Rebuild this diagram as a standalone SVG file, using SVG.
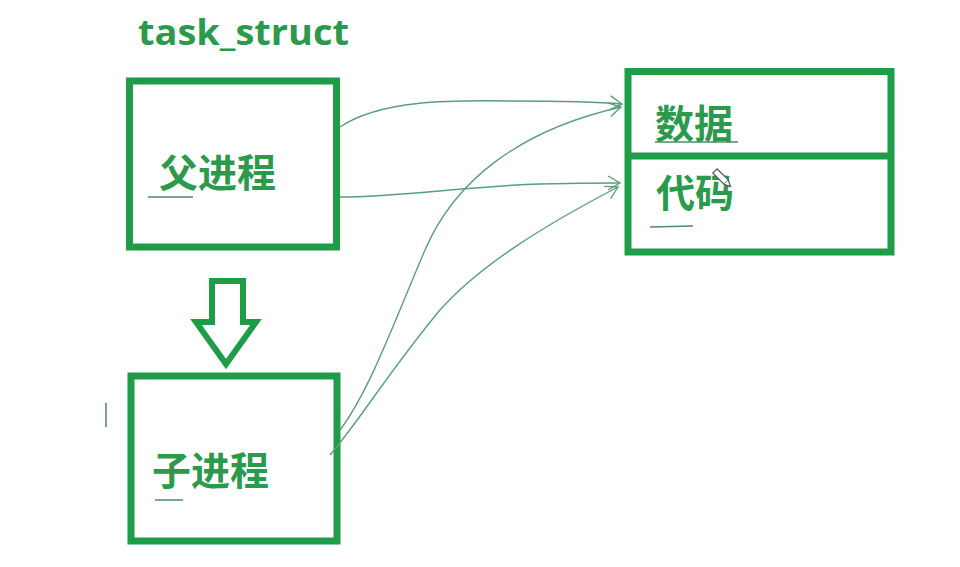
<svg xmlns="http://www.w3.org/2000/svg" width="960" height="567" viewBox="0 0 960 567">
<defs>
<style>
.box{fill:none;stroke:#1f9c48;stroke-width:7}
.lbl{font-family:"Noto Sans CJK SC","Noto Sans",sans-serif;font-weight:bold;font-size:39px;fill:#2b9a4c}
.title{font-family:"Open Sans","Liberation Sans",sans-serif;font-weight:bold;font-size:35px;fill:#2b9a4c}
.mark{stroke:#4f8a66;stroke-width:1.5;fill:none}
.conn{fill:none;stroke:#5a9f7c;stroke-width:1.4}
</style>
<marker id="arr" markerWidth="16" markerHeight="16" refX="14" refY="8" orient="auto" markerUnits="userSpaceOnUse">
<path d="M2,1 L14,8 L2,15" fill="none" stroke="#5a9f7c" stroke-width="1.4"/>
</marker>
</defs>
<rect width="960" height="567" fill="#ffffff"/>
<text class="title" x="138" y="45" textLength="211" lengthAdjust="spacingAndGlyphs">task_struct</text>
<g id="parent">
<rect class="box" x="129.5" y="81" width="207" height="166"/>
<text class="lbl" x="159" y="187">父进程</text>
<line class="mark" x1="148" y1="197" x2="193" y2="197"/>
</g>
<g id="fork-arrow">
<polygon points="212,281 243,281 243,322 256,322 226,364 196,322 212,322" fill="none" stroke="#1f9c48" stroke-width="6" stroke-linejoin="miter"/>
</g>
<g id="child">
<rect class="box" x="131" y="376" width="206" height="165"/>
<text class="lbl" x="152" y="485">子进程</text>
<line class="mark" x1="155" y1="500" x2="183" y2="500"/>
</g>
<line class="mark" x1="106" y1="403" x2="106" y2="427" stroke="#9ab5a5"/>
<g id="memory">
<rect class="box" x="628" y="71.5" width="263" height="180.5"/>
<line x1="628" y1="156" x2="891" y2="156" stroke="#1f9c48" stroke-width="7"/>
<text class="lbl" x="655" y="138">数据</text>
<line class="mark" x1="655" y1="142" x2="738" y2="142"/>
<text class="lbl" x="656" y="207">代码</text>
<line class="mark" x1="650" y1="227" x2="693" y2="226"/>
<g id="pencil" transform="translate(722,178) rotate(-45)">
<rect x="-3" y="-10" width="6" height="16" fill="#ffffff" stroke="#555" stroke-width="1.2"/>
<path d="M-3,6 L0,12 L3,6" fill="#ffffff" stroke="#555" stroke-width="1.2"/>
</g>
</g>
<g id="connectors">
<path class="conn" d="M340,127 C380,100 450,100 510,101 C560,101 600,102 622,104" marker-end="url(#arr)"/>
<path class="conn" d="M340,197 C400,197 470,186 540,184 C580,183 605,183 620,183" marker-end="url(#arr)"/>
<path class="conn" d="M340,430 C370,390 395,320 425,250 C455,180 520,130 621,107" marker-end="url(#arr)"/>
<path class="conn" d="M330,455 C360,420 390,370 440,310 C480,265 545,225 618,187" marker-end="url(#arr)"/>
</g>
</svg>
